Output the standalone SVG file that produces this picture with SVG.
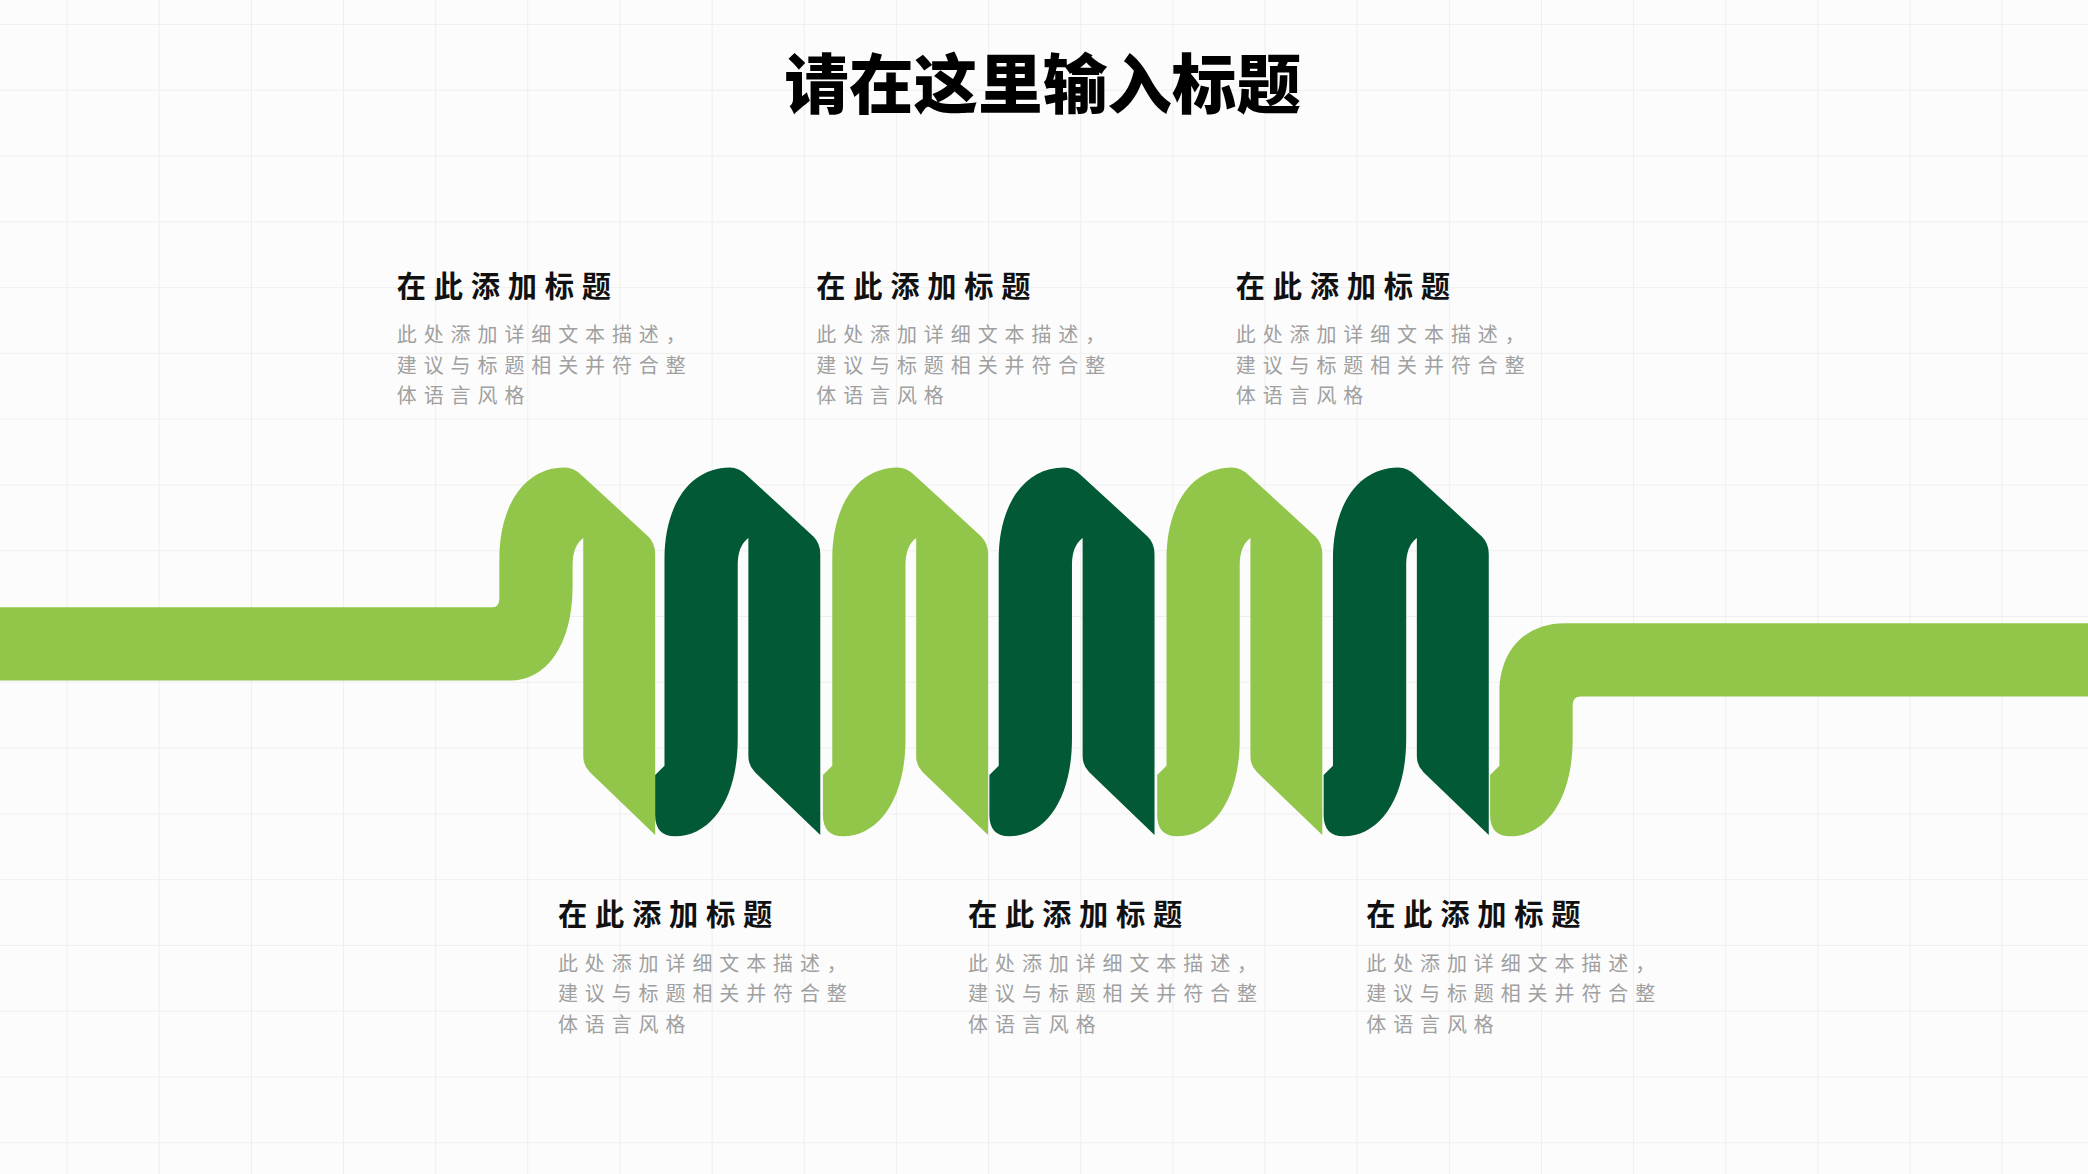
<svg xmlns="http://www.w3.org/2000/svg" width="2088" height="1174" viewBox="0 0 2088 1174">
<defs>
<style>
.t{font-family:"Noto Sans CJK SC","Noto Sans",sans-serif;font-weight:700;font-size:22px;letter-spacing:5.8px;fill:#111}
.d{font-family:"Noto Sans CJK SC","Noto Sans",sans-serif;font-size:15px;letter-spacing:5.2px;fill:#a0a0a0}
.lg{fill:#92c64b}.dk{fill:#015935}
</style>
<pattern id="grid" x="50" y="18" width="69.2" height="49.4" patternUnits="userSpaceOnUse">
<path d="M0,0 V49.4 M0,0 H69.2" fill="none" stroke="#ececec" stroke-width="1.2"/>
</pattern>
<path id="mid" d="M0,575 L0,420 C0,378 20,351 49,351 Q56,351 62,357 L112,403 Q117,408 117,416 L117,627 L68,580 Q63,575 63,568 L63,404 Q55,410 55,424 L55,555 C55,600 35,628 8,628 Q-7,628 -7,612 L-7,582 Z"/>
</defs>
<g transform="scale(1.33163)">
<rect width="1568" height="882" fill="#fcfcfc"/>
<rect width="1568" height="882" fill="url(#grid)"/>
<g id="ribbon">
<path id="p1" class="lg" d="M0,456 L370,456 Q375,456 375,449 L375,420 C375,378 395,351 424,351 Q431,351 437,357 L487,403 Q492,408 492,416 L492,627 L443,580 Q438,575 438,568 L438,404 Q430,410 430,424 L430,440 C430,485 410,511 383,511 L0,511 Z"/>
<use id="p2" href="#mid" class="dk" transform="translate(499,0)"/>
<use id="p3" href="#mid" class="lg" transform="translate(625,0)"/>
<use id="p4" href="#mid" class="dk" transform="translate(750,0)"/>
<use id="p5" href="#mid" class="lg" transform="translate(876,0)"/>
<use id="p6" href="#mid" class="dk" transform="translate(1001,0)"/>
<path id="p7" class="lg" d="M1126,575 L1126,520 C1126,488 1146,468 1175,468 L1568,468 L1568,523 L1187,523 Q1181,523 1181,530 L1181,555 C1181,600 1161,628 1134,628 Q1119,628 1119,612 L1119,582 Z"/>
</g>
<text x="783" y="81" text-anchor="middle" style="font-family:'Noto Sans CJK SC',sans-serif;font-weight:900;font-size:48.5px;fill:#000">请在这里输入标题</text>
<g id="b1"><text class="t" x="298" y="223">在此添加标题</text><text class="d" x="298" y="257">此处添加详细文本描述，</text><text class="d" x="298" y="280">建议与标题相关并符合整</text><text class="d" x="298" y="303">体语言风格</text></g>
<g id="b2"><text class="t" x="613" y="223">在此添加标题</text><text class="d" x="613" y="257">此处添加详细文本描述，</text><text class="d" x="613" y="280">建议与标题相关并符合整</text><text class="d" x="613" y="303">体语言风格</text></g>
<g id="b3"><text class="t" x="928" y="223">在此添加标题</text><text class="d" x="928" y="257">此处添加详细文本描述，</text><text class="d" x="928" y="280">建议与标题相关并符合整</text><text class="d" x="928" y="303">体语言风格</text></g>
<g id="b4"><text class="t" x="419" y="695">在此添加标题</text><text class="d" x="419" y="729">此处添加详细文本描述，</text><text class="d" x="419" y="752">建议与标题相关并符合整</text><text class="d" x="419" y="775">体语言风格</text></g>
<g id="b5"><text class="t" x="727" y="695">在此添加标题</text><text class="d" x="727" y="729">此处添加详细文本描述，</text><text class="d" x="727" y="752">建议与标题相关并符合整</text><text class="d" x="727" y="775">体语言风格</text></g>
<g id="b6"><text class="t" x="1026" y="695">在此添加标题</text><text class="d" x="1026" y="729">此处添加详细文本描述，</text><text class="d" x="1026" y="752">建议与标题相关并符合整</text><text class="d" x="1026" y="775">体语言风格</text></g>
</g>
</svg>
